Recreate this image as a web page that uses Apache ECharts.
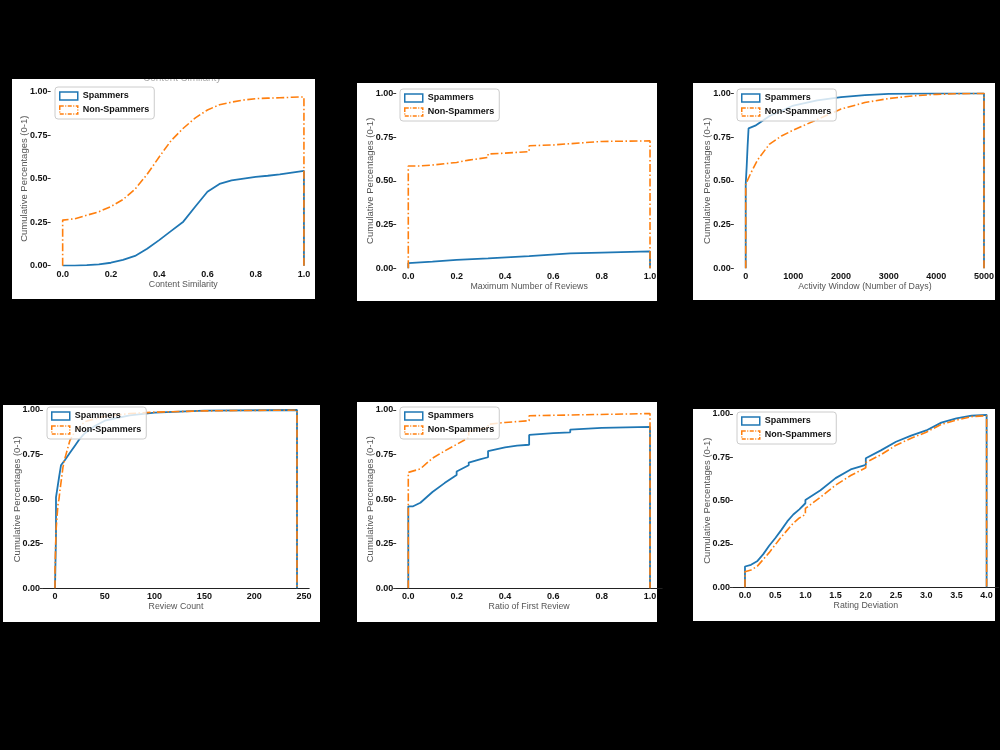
<!DOCTYPE html>
<html>
<head>
<meta charset="utf-8">
<script src="https://cdn.jsdelivr.net/npm/echarts@6/dist/echarts.min.js"></script>
<style>
  html, body { margin: 0; padding: 0; background: #000; }
  #main { width: 1000px; height: 750px; }
</style>
</head>
<body>
<div id="main"></div>
<script>
// cumulative step outlines: [x], [y] per series
// Content Similarity
const simSpamX = [0, 0, 0.05, 0.1, 0.15, 0.2, 0.25, 0.3, 0.35, 0.4, 0.45, 0.5, 0.55, 0.6, 0.65, 0.7, 0.75, 0.8, 0.85, 0.9, 0.95, 1.0, 1.0];
const simSpamY = [0, 0, 0.001, 0.003, 0.008, 0.017, 0.033, 0.056, 0.097, 0.147, 0.2, 0.253, 0.34, 0.425, 0.47, 0.49, 0.5, 0.51, 0.517, 0.525, 0.535, 0.545, 0];
const simNonX = [0, 0, 0.05, 0.1, 0.15, 0.2, 0.25, 0.3, 0.35, 0.4, 0.45, 0.5, 0.55, 0.6, 0.65, 0.7, 0.75, 0.8, 0.85, 0.9, 0.95, 1.0, 1.0];
const simNonY = [0, 0.262, 0.27, 0.29, 0.31, 0.34, 0.38, 0.44, 0.525, 0.625, 0.72, 0.79, 0.85, 0.895, 0.925, 0.94, 0.952, 0.96, 0.963, 0.965, 0.968, 0.97, 0];

// Maximum Number of Reviews
const maxSpamX = [0, 0, 0.1, 0.2, 0.33, 0.5, 0.5, 0.67, 0.8, 1.0, 1.0];
const maxSpamY = [0, 0.029, 0.038, 0.048, 0.057, 0.07, 0.077, 0.085, 0.09, 0.097, 0];
const maxNonX = [0, 0, 0.05, 0.1, 0.2, 0.25, 0.33, 0.33, 0.4, 0.5, 0.5, 0.6, 0.67, 0.75, 0.8, 1.0, 1.0];
const maxNonY = [0, 0.585, 0.585, 0.59, 0.605, 0.618, 0.634, 0.653, 0.658, 0.667, 0.7, 0.705, 0.712, 0.72, 0.725, 0.728, 0];

// Activity Window (Number of Days)
const actSpamX = [0, 0, 20, 40, 60, 100, 200, 500, 1000, 1500, 2000, 2500, 3000, 4000, 5000, 5000];
const actSpamY = [0, 0.48, 0.58, 0.7, 0.8, 0.805, 0.815, 0.87, 0.93, 0.96, 0.978, 0.99, 0.997, 1.0, 1.0, 0];
const actNonX = [0, 0, 100, 250, 500, 750, 1000, 1500, 2000, 2500, 3000, 3500, 4000, 4500, 5000, 5000];
const actNonY = [0, 0.48, 0.54, 0.62, 0.71, 0.756, 0.79, 0.85, 0.91, 0.947, 0.97, 0.985, 0.994, 0.998, 1.0, 0];

// Review Count
const revSpamX = [0, 1, 1, 3, 4, 6, 8, 10, 15, 20, 25, 30, 40, 50, 75, 100, 150, 243, 243];
const revSpamY = [0, 0.3, 0.51, 0.51, 0.62, 0.69, 0.7, 0.72, 0.76, 0.8, 0.84, 0.87, 0.91, 0.94, 0.97, 0.985, 0.997, 1.0, 0];
const revNonX = [0, 0, 1, 2, 3, 4, 5, 7, 8, 10, 15, 20, 30, 50, 75, 100, 150, 243, 243];
const revNonY = [0, 0.1, 0.32, 0.4, 0.47, 0.5, 0.55, 0.635, 0.68, 0.73, 0.83, 0.88, 0.935, 0.965, 0.98, 0.988, 0.995, 1.0, 0];

// Ratio of First Review
const firSpamX = [0, 0, 0.02, 0.05, 0.1, 0.15, 0.2, 0.2, 0.25, 0.25, 0.3, 0.33, 0.33, 0.4, 0.45, 0.5, 0.5, 0.6, 0.67, 0.67, 0.8, 1.0, 1.0];
const firSpamY = [0, 0.46, 0.46, 0.48, 0.54, 0.59, 0.635, 0.655, 0.69, 0.705, 0.725, 0.735, 0.77, 0.79, 0.8, 0.805, 0.86, 0.87, 0.875, 0.89, 0.9, 0.905, 0];
const firNonX = [0, 0, 0.05, 0.1, 0.15, 0.2, 0.25, 0.25, 0.33, 0.33, 0.4, 0.5, 0.5, 0.67, 0.67, 1.0, 1.0];
const firNonY = [0, 0.65, 0.67, 0.73, 0.77, 0.807, 0.845, 0.88, 0.9, 0.92, 0.93, 0.94, 0.968, 0.972, 0.98, 0.98, 0];

// Rating Deviation
const ratSpamX = [0, 0, 0.1, 0.2, 0.3, 0.4, 0.5, 0.6, 0.7, 0.8, 0.9, 1.0, 1.0, 1.25, 1.5, 1.75, 2.0, 2.0, 2.25, 2.5, 2.75, 3.0, 3.0, 3.25, 3.5, 3.75, 4.0, 4.0];
const ratSpamY = [0, 0.12, 0.13, 0.15, 0.19, 0.24, 0.283, 0.33, 0.38, 0.42, 0.45, 0.485, 0.504, 0.56, 0.63, 0.68, 0.706, 0.745, 0.79, 0.84, 0.875, 0.905, 0.915, 0.95, 0.975, 0.99, 0.995, 0];
const ratNonX = [0, 0, 0.1, 0.2, 0.3, 0.4, 0.5, 0.6, 0.7, 0.8, 0.9, 1.0, 1.0, 1.25, 1.5, 1.75, 2.0, 2.0, 2.25, 2.5, 2.75, 3.0, 3.0, 3.25, 3.5, 3.75, 4.0, 4.0];
const ratNonY = [0, 0.09, 0.1, 0.12, 0.16, 0.2, 0.245, 0.29, 0.33, 0.37, 0.4, 0.42, 0.455, 0.52, 0.59, 0.645, 0.69, 0.72, 0.765, 0.82, 0.86, 0.895, 0.905, 0.94, 0.965, 0.985, 0.99, 0];

// axis text
const xNames = ["Content Similarity", "Maximum Number of Reviews", "Activity Window (Number of Days)",
                "Review Count", "Ratio of First Review", "Rating Deviation"];
const yName = "Cumulative Percentages (0-1)";
const xTicks = [
  [0, 0.2, 0.4, 0.6, 0.8, 1.0],
  [0, 0.2, 0.4, 0.6, 0.8, 1.0],
  [0, 1000, 2000, 3000, 4000, 5000],
  [0, 50, 100, 150, 200, 250],
  [0, 0.2, 0.4, 0.6, 0.8, 1.0],
  [0, 0.5, 1.0, 1.5, 2.0, 2.5, 3.0, 3.5, 4.0]
];
const xDecimals = [1, 1, 0, 0, 1, 1];
const seriesNames = ["Spammers", "Non-Spammers"];

const spamSets = [[simSpamX, simSpamY], [maxSpamX, maxSpamY], [actSpamX, actSpamY],
                  [revSpamX, revSpamY], [firSpamX, firSpamY], [ratSpamX, ratSpamY]];
const nonSets = [[simNonX, simNonY], [maxNonX, maxNonY], [actNonX, actNonY],
                 [revNonX, revNonY], [firNonX, firNonY], [ratNonX, ratNonY]];

// layout
const FONT = "Liberation Sans, Arial, sans-serif";
const BLUE = "#1f77b4", ORANGE = "#ff7f0e";
const DASHDOT = [8, 2.5, 1.5, 2.5];

const panels = [ // white backgrounds
  [12, 79, 303, 220], [357, 83, 300, 218], [693, 83, 302, 217],
  [3, 405, 317, 217], [357, 402, 300, 220], [693, 409, 302, 212]
];
const grids = [ // left, top, width, height
  [50.6, 91.7, 265.4, 174], [396.2, 93.3, 265.9, 175], [733.8, 93.3, 262.1, 175],
  [42.9, 410, 266.2, 178.3], [396.2, 410, 265.9, 178.3], [732.9, 414, 265.8, 173.3]
];
const xRanges = [[-0.05, 1.05], [-0.05, 1.05], [-250, 5250], [-12.15, 255.15], [-0.05, 1.05], [-0.2, 4.2]];
const showBaseLine = [false, false, false, true, true, true];
const legendPos = [[55, 87], [400, 89], [737, 89], [47, 407], [400, 407], [737, 412]];

function zip(xs, ys) {
  return xs.map((x, i) => [x, ys[i]]);
}

const option = {
  backgroundColor: "#000",
  animation: false,
  textStyle: { fontFamily: FONT },
  graphic: [],
  grid: [], xAxis: [], yAxis: [], legend: [], series: []
};

panels.forEach(p => {
  option.graphic.push({
    type: "rect", z: -10, silent: true,
    shape: { x: p[0], y: p[1], width: p[2], height: p[3] },
    style: { fill: "#fff" }
  });
});
// clipped title left over at top of first panel
option.graphic.push({
  type: "text", z: -5, left: 143, top: 73, silent: true,
  style: { text: "Content Similarity", fill: "#aaa", font: "10px " + FONT }
});
option.graphic.push({
  type: "rect", z: -4, silent: true,
  shape: { x: 12, y: 60, width: 303, height: 19 }, style: { fill: "#000" }
});

grids.forEach((g, i) => {
  option.grid.push({ left: g[0], top: g[1], width: g[2], height: g[3] });
  option.xAxis.push({
    type: "value", gridIndex: i, min: xRanges[i][0], max: xRanges[i][1],
    splitLine: { show: false },
    axisLine: { show: showBaseLine[i], onZero: false, lineStyle: { color: "#222", width: 1.2 } },
    axisTick: { show: false },
    axisLabel: {
      customValues: xTicks[i], margin: 4, fontSize: 9, fontWeight: "bold", color: "#111",
      formatter: v => v.toFixed(xDecimals[i])
    },
    name: xNames[i], nameLocation: "middle", nameGap: 14,
    nameTextStyle: { fontSize: 8.8, color: "#555" }
  });
  option.yAxis.push({
    type: "value", gridIndex: i, min: 0, max: 1, interval: 0.25,
    splitLine: { show: false },
    axisLine: { show: false, onZero: false },
    axisTick: { show: true, length: 3, lineStyle: { color: "#333" } },
    axisLabel: { margin: 3, fontSize: 9, fontWeight: "bold", color: "#111", formatter: v => v.toFixed(2) },
    name: yName, nameLocation: "middle", nameGap: 21, nameRotate: 90, nameMoveOverlap: false,
    nameTextStyle: { fontSize: 9.5, color: "#555" }
  });
  option.series.push({
    name: seriesNames[0], type: "line", xAxisIndex: i, yAxisIndex: i,
    data: zip(spamSets[i][0], spamSets[i][1]),
    showSymbol: false, silent: true, z: 2,
    lineStyle: { color: BLUE, width: 1.8 }, itemStyle: { color: BLUE }
  });
  option.series.push({
    name: seriesNames[1], type: "line", xAxisIndex: i, yAxisIndex: i,
    data: zip(nonSets[i][0], nonSets[i][1]),
    showSymbol: false, silent: true, z: 3,
    lineStyle: { color: ORANGE, width: 1.6, type: DASHDOT }, itemStyle: { color: ORANGE }
  });
  option.legend.push({
    orient: "vertical", left: legendPos[i][0], top: legendPos[i][1],
    padding: [3, 5, 3, 4], itemWidth: 18, itemHeight: 8, itemGap: 2,
    backgroundColor: "rgba(255,255,255,0.8)", borderColor: "#ccc", borderWidth: 1, borderRadius: 3,
    selectedMode: false,
    textStyle: { fontSize: 9, fontWeight: "bold", color: "#111", lineHeight: 12 },
    data: [
      { name: seriesNames[0], icon: "rect",
        itemStyle: { color: "rgba(0,0,0,0)", borderColor: BLUE, borderWidth: 1.5 } },
      { name: seriesNames[1], icon: "rect",
        itemStyle: { color: "rgba(0,0,0,0)", borderColor: ORANGE, borderWidth: 1.5, borderType: [4, 1.5, 1, 1.5] } }
    ]
  });
});

const chart = echarts.init(document.getElementById("main"), null, { renderer: "canvas" });
chart.setOption(option);
</script>
</body>
</html>
